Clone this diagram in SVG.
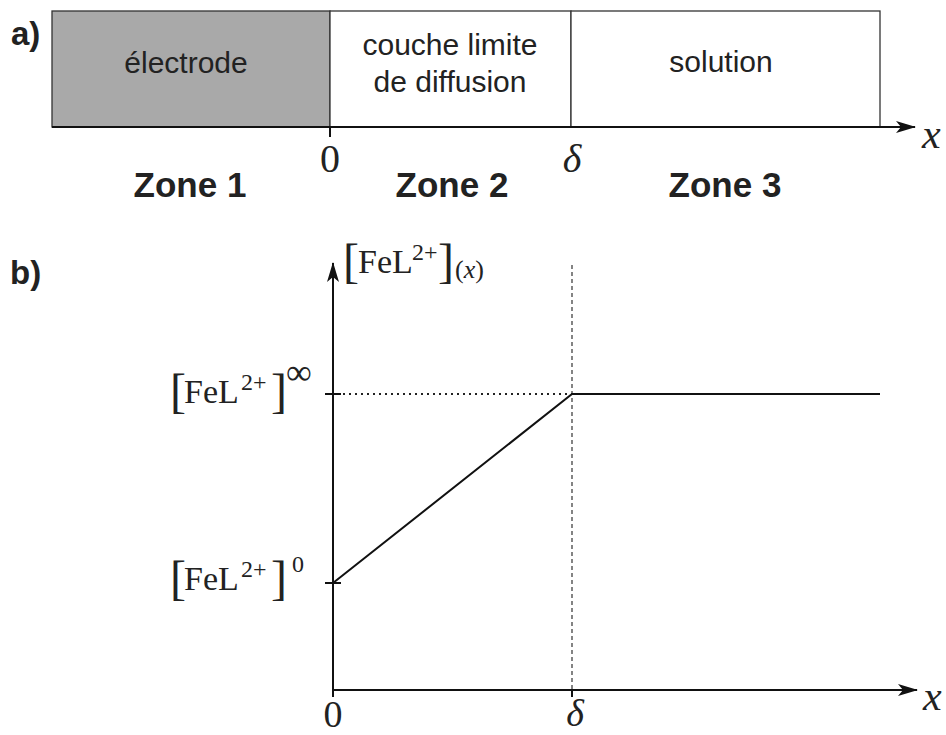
<svg xmlns="http://www.w3.org/2000/svg" width="946" height="735" viewBox="0 0 946 735">
<style>
.ax{stroke:#111;stroke-width:2;fill:none}
.sans{font-family:"Liberation Sans",Arial,sans-serif;fill:#222;font-size:30px}
.bold{font-family:"Liberation Sans",Arial,sans-serif;font-weight:bold;fill:#222}
.ser{font-family:"Liberation Serif","DejaVu Serif",serif;fill:#222}
.br{font-family:"Liberation Serif","DejaVu Serif",serif;fill:#222;font-size:48px}
.fel{font-family:"Liberation Serif","DejaVu Serif",serif;fill:#222;font-size:34px}
.sup{font-family:"Liberation Serif","DejaVu Serif",serif;fill:#222;font-size:24px}
</style>
<defs>
<marker id="arr" viewBox="0 0 20 12" refX="19" refY="6" markerWidth="20" markerHeight="12" markerUnits="userSpaceOnUse" orient="auto">
<path d="M0,0 L20,6 L0,12 L5,6 Z" fill="#111"/>
</marker>
</defs>
<text class="bold" x="11" y="45" font-size="33">a)</text>
<g id="electrode">
<rect x="52" y="11" width="278" height="116" fill="#a9a9a9" stroke="#333" stroke-width="1.3"/>
<text class="sans" x="186" y="73" text-anchor="middle">électrode</text>
</g>
<g id="couche">
<rect x="330" y="11" width="241" height="116" fill="#fff" stroke="#333" stroke-width="1.3"/>
<text class="sans" x="450" y="55" text-anchor="middle">couche limite</text>
<text class="sans" x="450" y="92" text-anchor="middle">de diffusion</text>
</g>
<g id="solution">
<rect x="571" y="11" width="309" height="116" fill="#fff" stroke="#333" stroke-width="1.3"/>
<text class="sans" x="721" y="72" text-anchor="middle">solution</text>
</g>
<g id="axis-a">
<line class="ax" x1="52" y1="127" x2="915" y2="127" marker-end="url(#arr)"/>
<line class="ax" x1="330" y1="127" x2="330" y2="137"/>
<text class="ser" x="922" y="148" font-size="42" font-style="italic">x</text>
<text class="ser" x="330" y="172" font-size="40" text-anchor="middle">0</text>
<text class="ser" x="572" y="172" font-size="40" font-style="italic" text-anchor="middle">δ</text>
</g>
<text class="bold" x="190" y="197" font-size="35" text-anchor="middle">Zone 1</text>
<text class="bold" x="452" y="197" font-size="35" text-anchor="middle">Zone 2</text>
<text class="bold" x="725" y="197" font-size="35" text-anchor="middle">Zone 3</text>
<text class="bold" x="10" y="284" font-size="33">b)</text>
<g id="connectors">
<line class="ax" x1="333" y1="697" x2="333" y2="263" marker-end="url(#arr)"/>
<line class="ax" x1="333" y1="690" x2="917" y2="690" marker-end="url(#arr)"/>
<line class="ax" x1="572" y1="690" x2="572" y2="697"/>
<line x1="572" y1="265" x2="572" y2="690" stroke="#333" stroke-width="1.2" stroke-dasharray="4,3"/>
<line x1="337" y1="394" x2="572" y2="394" stroke="#222" stroke-width="2" stroke-dasharray="2,4"/>
<line class="ax" x1="325" y1="394" x2="341" y2="394"/>
<line class="ax" x1="325" y1="583" x2="341" y2="583"/>
<polyline class="ax" points="333,583 572,394 880,394"/>
</g>
<g id="label-y">
<text class="br" x="343" y="277">[</text>
<text class="fel" x="358" y="273">FeL</text>
<text class="sup" x="412" y="260">2+</text>
<text class="br" x="438" y="277">]</text>
<text class="ser" x="455" y="278" font-size="26">(<tspan font-style="italic">x</tspan>)</text>
</g>
<g id="label-inf">
<text class="br" x="170" y="407">[</text>
<text class="fel" x="184" y="403">FeL</text>
<text class="sup" x="241" y="390">2+</text>
<text class="br" x="271" y="407">]</text>
<text class="ser" x="286" y="384" font-size="36">∞</text>
</g>
<g id="label-0">
<text class="br" x="170" y="594">[</text>
<text class="fel" x="184" y="590">FeL</text>
<text class="sup" x="241" y="577">2+</text>
<text class="br" x="271" y="594">]</text>
<text class="sup" x="292" y="572">0</text>
</g>
<text class="ser" x="333" y="727" font-size="38" text-anchor="middle">0</text>
<text class="ser" x="575" y="726" font-size="38" font-style="italic" text-anchor="middle">δ</text>
<text class="ser" x="923" y="710" font-size="42" font-style="italic">x</text>
</svg>
